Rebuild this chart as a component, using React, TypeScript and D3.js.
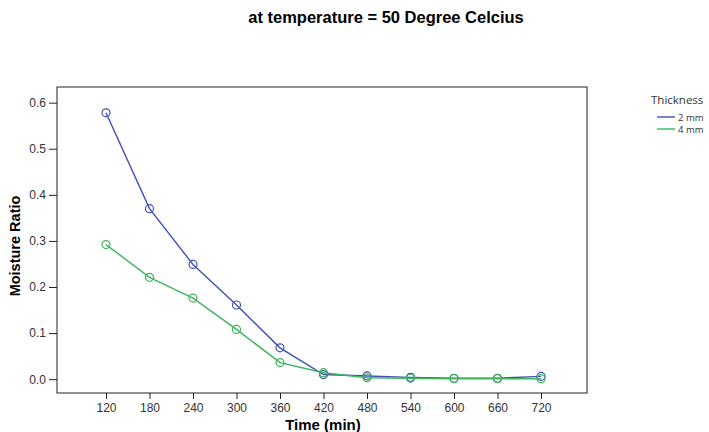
import React, { useEffect, useRef } from 'react';
import * as d3 from 'd3';

const width = 709;
const height = 432;

const times = [120, 180, 240, 300, 360, 420, 480, 540, 600, 660, 720];
const thick2mm = [0.578, 0.37, 0.249, 0.161, 0.068, 0.01, 0.007, 0.004, 0.002, 0.002, 0.006];
const thick4mm = [0.292, 0.221, 0.176, 0.108, 0.036, 0.014, 0.003, 0.002, 0.001, 0.001, 0.001];
const yTicks = [0, 0.1, 0.2, 0.3, 0.4, 0.5, 0.6];
const seriesNames = ['2 mm', '4 mm'];
const seriesColors = ['#4150b8', '#3db65a'];

const frame = { left: 57, right: 587, top: 87, bottom: 393 };

function App() {
  const svgRef = useRef<SVGSVGElement>(null);

  useEffect(() => {
    const svg = d3.select(svgRef.current);
    svg.selectAll('*').remove();

    const x = d3.scaleLinear().domain([120, 720]).range([106, 541]);
    const y = d3.scaleLinear().domain([-0.03, 0.634]).range([frame.bottom, frame.top]);

    svg.append('text')
      .attr('x', 386).attr('y', 23)
      .attr('text-anchor', 'middle')
      .style('font-family', 'Liberation Sans, Arial, sans-serif')
      .style('font-size', '16.5px').style('font-weight', 'bold')
      .text('at temperature = 50 Degree Celcius');

    // frame
    svg.append('rect')
      .attr('x', frame.left).attr('y', frame.top)
      .attr('width', frame.right - frame.left).attr('height', frame.bottom - frame.top)
      .attr('fill', 'none').attr('stroke', '#222').attr('stroke-width', 1);

    const yAxis = svg.append('g')
      .attr('transform', `translate(${frame.left},0)`)
      .call(d3.axisLeft(y).tickValues(yTicks).tickFormat(d3.format('.1f')).tickSize(8).tickPadding(3));
    const xAxis = svg.append('g')
      .attr('transform', `translate(0,${frame.bottom})`)
      .call(d3.axisBottom(x).tickValues(times).tickFormat(d3.format('d')).tickSize(6).tickPadding(4));

    [yAxis, xAxis].forEach(a => {
      a.select('.domain').remove();
      a.selectAll('line').attr('stroke', '#222');
      a.selectAll('text')
        .style('font-family', 'Liberation Sans, Arial, sans-serif')
        .style('font-size', '12px').attr('fill', '#333');
    });

    svg.append('text')
      .attr('transform', `translate(20,${(frame.top + frame.bottom) / 2 + 6}) rotate(-90)`)
      .attr('text-anchor', 'middle')
      .style('font-family', 'Liberation Sans, Arial, sans-serif')
      .style('font-size', '14.5px').style('font-weight', 'bold')
      .text('Moisture Ratio');

    svg.append('text')
      .attr('x', 323).attr('y', 430)
      .attr('text-anchor', 'middle')
      .style('font-family', 'Liberation Sans, Arial, sans-serif')
      .style('font-size', '15px').style('font-weight', 'bold')
      .text('Time (min)');

    const line = d3.line<number>()
      .x((d, i) => x(times[i]))
      .y(d => y(d));

    [thick2mm, thick4mm].forEach((vals, k) => {
      const g = svg.append('g');
      g.append('path')
        .datum(vals)
        .attr('d', line)
        .attr('fill', 'none')
        .attr('stroke', seriesColors[k])
        .attr('stroke-width', 1.4);
      g.selectAll('circle')
        .data(vals)
        .enter()
        .append('circle')
        .attr('cx', (d, i) => x(times[i]))
        .attr('cy', d => y(d))
        .attr('r', 4)
        .attr('fill', 'none')
        .attr('stroke', seriesColors[k])
        .attr('stroke-width', 1.2);
    });

    // legend
    const legend = svg.append('g').attr('transform', 'translate(651,0)');
    legend.append('text')
      .attr('x', 0).attr('y', 104)
      .style('font-family', 'Open Sans, Arial, sans-serif')
      .style('font-size', '11.5px').attr('fill', '#333')
      .text('Thickness');
    seriesNames.forEach((name, k) => {
      const ly = 117 + k * 12;
      legend.append('line')
        .attr('x1', 6).attr('x2', 24).attr('y1', ly).attr('y2', ly)
        .attr('stroke', seriesColors[k]).attr('stroke-width', 1.4);
      legend.append('text')
        .attr('x', 27).attr('y', ly + 3.5)
        .style('font-family', 'Open Sans, Arial, sans-serif')
        .style('font-size', '9.5px').attr('fill', '#333')
        .text(name);
    });
  }, []);

  return (
    <svg ref={svgRef} width={width} height={height}
      style={{ position: 'absolute', left: 0, top: 0, background: '#fff' }} />
  );
}

export default App;
